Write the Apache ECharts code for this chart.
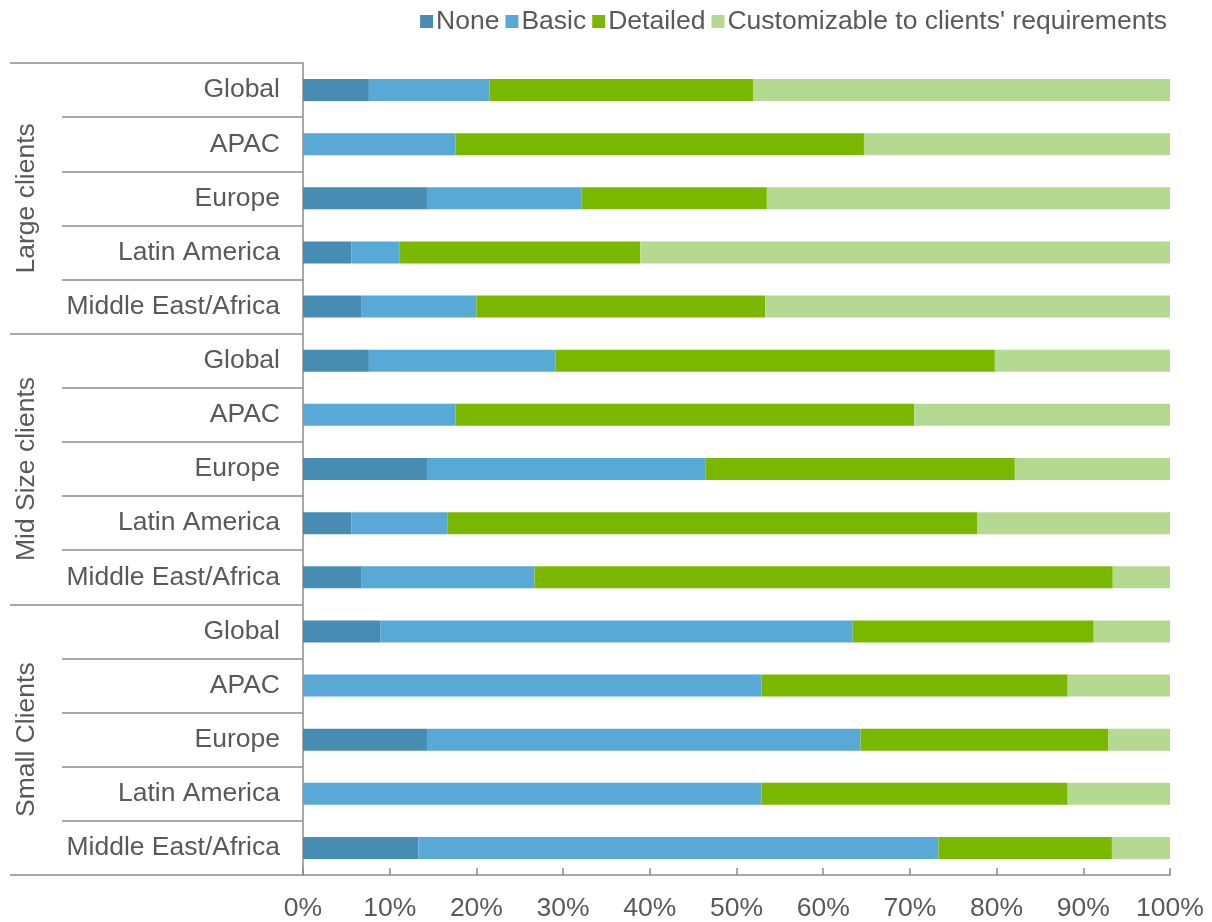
<!DOCTYPE html>
<html>
<head>
<meta charset="utf-8">
<title>Reporting detail by client size and region</title>
<script src="https://cdn.jsdelivr.net/npm/echarts@6/dist/echarts.min.js"></script>
<style>
  html, body { margin: 0; padding: 0; background: #ffffff; }
  #chart { width: 1212px; height: 922px; }
</style>
</head>
<body>
<div id="chart"></div>
<script>
// Client segments (outer axis) and regions (inner axis), top to bottom
const groups = ['Large clients', 'Mid Size clients', 'Small Clients'];
const regions = ['Global', 'APAC', 'Europe', 'Latin America', 'Middle East/Africa'];

// Share of respondents (%) per level of detail, 15 rows in segment/region order
const noneVals = [7.6, 0, 14.3, 5.6, 6.7,   7.6, 0, 14.3, 5.6, 6.7,   8.9, 0, 14.3, 0, 13.3];
const basicVals = [13.9, 17.6, 17.8, 5.5, 13.3,   21.5, 17.6, 32.1, 11.1, 20.0,   54.5, 52.9, 50.0, 52.9, 60.0];
const detailedVals = [30.4, 47.1, 21.4, 27.8, 33.3,   50.7, 52.9, 35.7, 61.1, 66.7,   27.8, 35.3, 28.6, 35.3, 20.0];
const customVals = [48.1, 35.3, 46.5, 61.1, 46.7,   20.2, 29.5, 17.9, 22.2, 6.6,   8.8, 11.8, 7.1, 11.8, 6.7];

const seriesNames = ['None', 'Basic', 'Detailed', "Customizable to clients' requirements"];
const xTicks = [0, 10, 20, 30, 40, 50, 60, 70, 80, 90, 100];

const colors = ['#478db3', '#58a9d6', '#7ab800', '#b6d991'];
const lineColor = '#8c8c8c';
const textColor = '#595959';
const fontFamily = 'Liberation Sans, Arial, sans-serif';
const fontSize = 26.5;

const rowLabels = [];
groups.forEach(() => regions.forEach(r => rowLabels.push(r)));

const chart = echarts.init(document.getElementById('chart'));

const makeSeries = (name, values) => ({
  name: name,
  type: 'bar',
  stack: 'share',
  yAxisIndex: 0,
  barWidth: 22,
  data: values,
  emphasis: { disabled: true }
});

chart.setOption({
  animation: false,
  color: colors,
  textStyle: { fontFamily: fontFamily },
  legend: {
    top: 3,
    right: 40,
    itemWidth: 13,
    itemHeight: 13,
    itemGap: 6,
    icon: 'rect',
    textStyle: { fontSize: fontSize, color: textColor, fontFamily: fontFamily, padding: [0, 0, 0, -2] },
    data: seriesNames
  },
  grid: { left: 303, right: 42, top: 63, bottom: 47, containLabel: false },
  xAxis: {
    type: 'value',
    min: 0,
    max: 100,
    interval: 10,
    axisLine: { show: true, lineStyle: { color: lineColor, width: 1.5 } },
    axisTick: { show: true, inside: true, length: 7, lineStyle: { color: lineColor, width: 1.5 } },
    splitLine: { show: false },
    axisLabel: {
      margin: 20,
      fontSize: fontSize,
      color: textColor,
      fontFamily: fontFamily,
      formatter: v => (xTicks.indexOf(v) >= 0 ? v + '%' : '')
    }
  },
  yAxis: [
    {
      type: 'category',
      inverse: true,
      position: 'left',
      data: rowLabels.map((r, i) => ({ value: i + '|' + r })),
      axisLine: { show: true, lineStyle: { color: lineColor, width: 1.5 } },
      axisTick: { show: true, length: 241, lineStyle: { color: lineColor, width: 1.5 } },
      axisLabel: {
        margin: 23,
        fontSize: fontSize,
        color: textColor,
        fontFamily: fontFamily,
        formatter: v => v.split('|')[1]
      }
    },
    {
      type: 'category',
      inverse: true,
      position: 'left',
      offset: 0,
      data: groups,
      axisLine: { show: false },
      axisTick: { show: true, length: 293, lineStyle: { color: lineColor, width: 1.5 } },
      axisLabel: {
        rotate: 90,
        margin: 263,
        fontSize: fontSize,
        color: textColor,
        fontFamily: fontFamily
      }
    }
  ],
  series: [
    makeSeries(seriesNames[0], noneVals),
    makeSeries(seriesNames[1], basicVals),
    makeSeries(seriesNames[2], detailedVals),
    makeSeries(seriesNames[3], customVals)
  ]
});
</script>
</body>
</html>
